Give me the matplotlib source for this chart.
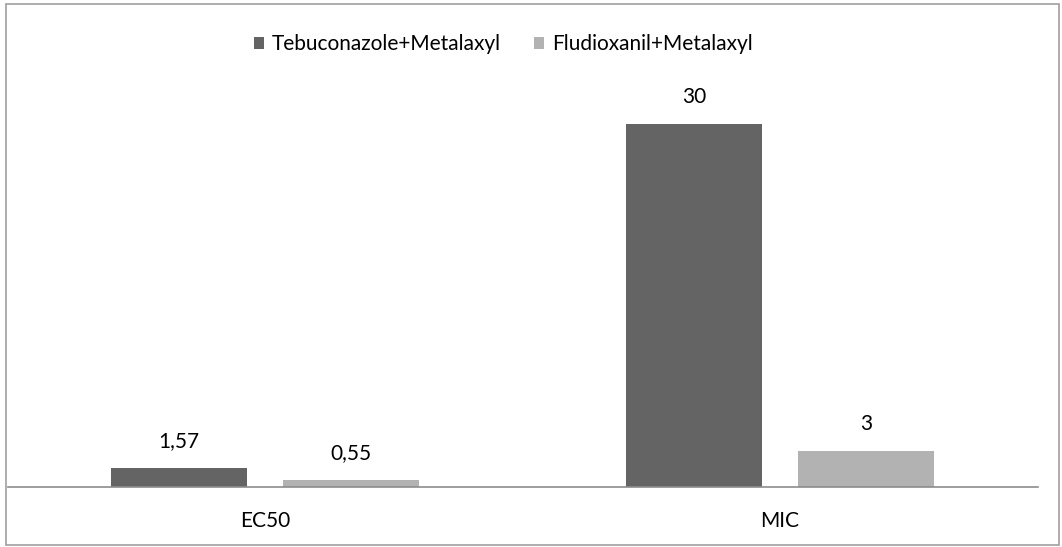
import numpy as np
import matplotlib.pyplot as plt
from matplotlib.patches import Rectangle

plt.rcParams['font.family'] = ['Lato', 'DejaVu Sans']

categories = ['EC50', 'MIC']
series_names = ['Tebuconazole+Metalaxyl', 'Fludioxanil+Metalaxyl']
tebu = [1.57, 30]
fludi = [0.55, 3]
labels_tebu = ['1,57', '30']
labels_fludi = ['0,55', '3']
colors = ['#646464', '#b2b2b2']

W, H = 1062, 547
fs = 15
fig = plt.figure(figsize=(W / 100, H / 100), dpi=100)
ax = fig.add_axes([7.5 / W, 1 - 487 / H, 1030 / W, (487 - 60) / H])

x = np.arange(len(categories))
bw = 0.264
off = (bw + 0.07) / 2
b1 = ax.bar(x - off, tebu, bw, color=colors[0], label=series_names[0])
b2 = ax.bar(x + off, fludi, bw, color=colors[1], label=series_names[1])

for bars, labs in ((b1, labels_tebu), (b2, labels_fludi)):
    for r, lab in zip(bars, labs):
        ax.annotate(lab, (r.get_x() + r.get_width() / 2, r.get_height()),
                    xytext=(0, 27), textcoords='offset pixels',
                    ha='center', va='center', fontsize=fs, color='#000000')

ax.set_xlim(-0.5, 1.5)
ax.set_ylim(0, 30 * 427 / 363)
ax.set_yticks([])
ax.set_xticks(x)
ax.set_xticklabels(categories, fontsize=fs)
ax.tick_params(axis='x', length=0, pad=17)
for s in ['top', 'left', 'right']:
    ax.spines[s].set_visible(False)
ax.spines['bottom'].set_color('#8c8c8c')
ax.spines['bottom'].set_linewidth(1.2)

fig.legend(handles=[b1, b2], loc='center left', bbox_to_anchor=(235 / W, 1 - 44 / H),
           ncol=2, frameon=False, fontsize=fs, handlelength=0.5,
           handleheight=0.5, handletextpad=0.35, columnspacing=1.6)

fig.patches.append(Rectangle((6 / W, 2 / H), 1053 / W, 541 / H,
                             transform=fig.transFigure, fill=False,
                             edgecolor='#a0a0a0', linewidth=1.2))

fig.savefig('out.png', dpi=100)
